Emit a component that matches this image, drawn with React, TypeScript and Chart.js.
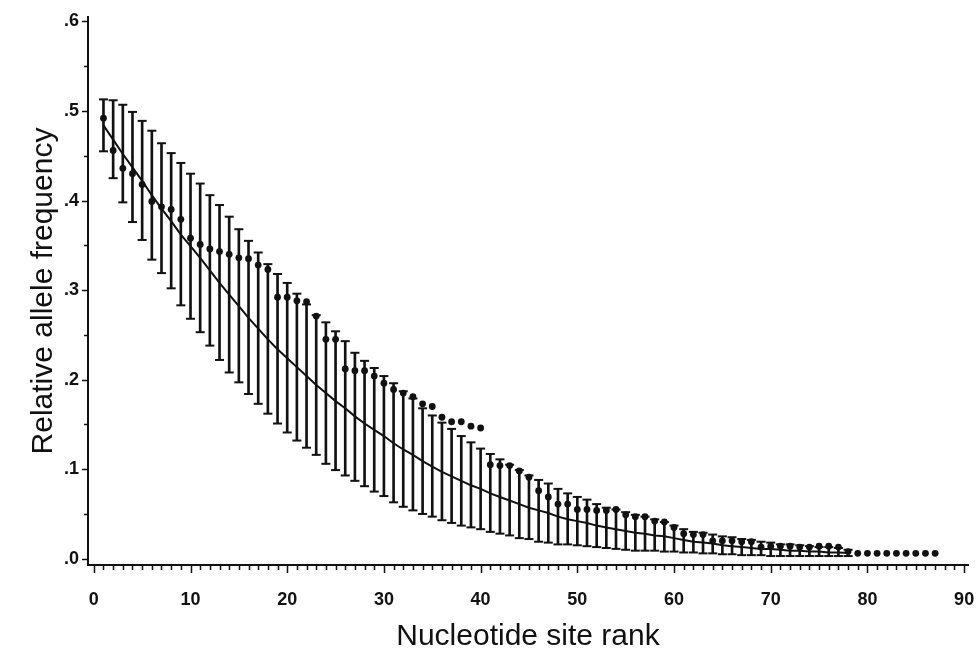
import React, { useEffect, useRef } from 'react';
import { Chart, registerables } from 'chart.js';

Chart.register(...registerables);

// Nucleotide site rank (categories)
const ranks = [
  1, 2, 3, 4, 5, 6, 7, 8, 9, 10, 11, 12, 13, 14, 15, 16, 17, 18, 19, 20,
  21, 22, 23, 24, 25, 26, 27, 28, 29, 30, 31, 32, 33, 34, 35, 36, 37, 38, 39, 40,
  41, 42, 43, 44, 45, 46, 47, 48, 49, 50, 51, 52, 53, 54, 55, 56, 57, 58, 59, 60,
  61, 62, 63, 64, 65, 66, 67, 68, 69, 70, 71, 72, 73, 74, 75, 76, 77, 78, 79, 80,
  81, 82, 83, 84, 85, 86, 87,
];

// Observed relative allele frequency (dots), ranks 1..87
const observed = [
  0.492, 0.456, 0.436, 0.430, 0.418, 0.399, 0.393, 0.390, 0.379, 0.358,
  0.351, 0.346, 0.343, 0.340, 0.336, 0.335, 0.328, 0.323, 0.292, 0.292,
  0.288, 0.287, 0.271, 0.245, 0.245, 0.212, 0.210, 0.210, 0.204, 0.196,
  0.189, 0.185, 0.181, 0.173, 0.170, 0.158, 0.153, 0.153, 0.148, 0.146,
  0.105, 0.104, 0.104, 0.098, 0.091, 0.076, 0.069, 0.061, 0.061, 0.055,
  0.055, 0.054, 0.054, 0.055, 0.049, 0.047, 0.047, 0.042, 0.041, 0.035,
  0.028, 0.027, 0.027, 0.020, 0.020, 0.020, 0.019, 0.019, 0.013, 0.014,
  0.014, 0.014, 0.013, 0.013, 0.014, 0.014, 0.013, 0.008, 0.006, 0.006,
  0.006, 0.006, 0.006, 0.006, 0.006, 0.006, 0.006,
];

// Expected frequency (curve), ranks 1..78
const expected = [
  0.484, 0.468, 0.452, 0.437, 0.422, 0.406, 0.391, 0.377, 0.362, 0.349,
  0.336, 0.322, 0.308, 0.295, 0.282, 0.269, 0.257, 0.245, 0.234, 0.224,
  0.214, 0.204, 0.194, 0.185, 0.176, 0.168, 0.159, 0.151, 0.144, 0.137,
  0.129, 0.122, 0.116, 0.109, 0.103, 0.097, 0.092, 0.087, 0.082, 0.078,
  0.073, 0.069, 0.065, 0.061, 0.057, 0.054, 0.051, 0.047, 0.044, 0.042,
  0.040, 0.037, 0.035, 0.033, 0.031, 0.029, 0.028, 0.026, 0.025, 0.023,
  0.021, 0.019, 0.018, 0.017, 0.015, 0.014, 0.013, 0.012, 0.011, 0.011,
  0.010, 0.009, 0.009, 0.008, 0.008, 0.007, 0.007, 0.0065,
];

// Upper end of error bars, ranks 1..78
const upper = [
  0.513, 0.512, 0.507, 0.499, 0.489, 0.478, 0.464, 0.453, 0.442, 0.430,
  0.419, 0.406, 0.395, 0.382, 0.368, 0.355, 0.342, 0.329, 0.318, 0.308,
  0.296, 0.284, 0.272, 0.264, 0.254, 0.243, 0.230, 0.221, 0.213, 0.204,
  0.196, 0.187, 0.179, 0.168, 0.160, 0.152, 0.145, 0.137, 0.130, 0.123,
  0.117, 0.111, 0.105, 0.099, 0.093, 0.088, 0.084, 0.078, 0.073, 0.069,
  0.066, 0.061, 0.057, 0.055, 0.052, 0.049, 0.047, 0.044, 0.041, 0.037,
  0.033, 0.030, 0.029, 0.027, 0.025, 0.024, 0.022, 0.021, 0.019, 0.018,
  0.016, 0.016, 0.015, 0.014, 0.013, 0.013, 0.012, 0.010,
];

// Lower end of error bars, ranks 1..78
const lower = [
  0.455, 0.425, 0.398, 0.376, 0.356, 0.334, 0.319, 0.302, 0.283, 0.268,
  0.253, 0.238, 0.222, 0.208, 0.197, 0.184, 0.173, 0.162, 0.151, 0.141,
  0.132, 0.124, 0.116, 0.106, 0.099, 0.093, 0.087, 0.081, 0.075, 0.070,
  0.063, 0.058, 0.054, 0.050, 0.047, 0.043, 0.040, 0.037, 0.035, 0.033,
  0.030, 0.028, 0.026, 0.023, 0.022, 0.019, 0.018, 0.016, 0.016, 0.015,
  0.014, 0.013, 0.012, 0.011, 0.010, 0.009, 0.009, 0.009, 0.008, 0.008,
  0.007, 0.007, 0.006, 0.006, 0.005, 0.005, 0.004, 0.004, 0.004, 0.003,
  0.003, 0.003, 0.003, 0.003, 0.003, 0.003, 0.003, 0.003,
];

const xTickValues = [0, 10, 20, 30, 40, 50, 60, 70, 80, 90];
const xTickLabels = ['0', '10', '20', '30', '40', '50', '60', '70', '80', '90'];
const yTickValues = [0, 0.1, 0.2, 0.3, 0.4, 0.5, 0.6];
const yTickLabels = ['.0', '.1', '.2', '.3', '.4', '.5', '.6'];
const xMinorStep = 1;
const yMinorStep = 0.05;

const INK = '#111111';
const FONT = "'Liberation Sans', Arial, Helvetica, sans-serif";

const tickPlugin = {
  id: 'axisTickMarks',
  afterDraw(chart: any) {
    const { ctx } = chart;
    const xs = chart.scales.x;
    const ys = chart.scales.y;
    ctx.save();
    ctx.strokeStyle = INK;
    ctx.lineWidth = 1.5;
    ctx.beginPath();
    const yMax = yTickValues[yTickValues.length - 1];
    const nY = Math.round(yMax / yMinorStep);
    for (let k = 0; k <= nY; k++) {
      const v = k * yMinorStep;
      const major = k % 2 === 0;
      const len = major ? 6 : 4;
      const py = Math.round(ys.getPixelForValue(v)) + 0.5;
      ctx.moveTo(ys.right - len, py);
      ctx.lineTo(ys.right, py);
    }
    const xMax = xTickValues[xTickValues.length - 1];
    const nX = Math.round(xMax / xMinorStep);
    for (let k = 0; k <= nX; k++) {
      const v = k * xMinorStep;
      const major = k % 10 === 0;
      const len = major ? 8 : 5;
      const px = Math.round(xs.getPixelForValue(v)) + 0.5;
      ctx.moveTo(px, xs.top);
      ctx.lineTo(px, xs.top + len);
    }
    ctx.stroke();
    ctx.restore();
  },
};

export default function App() {
  const ref = useRef<HTMLCanvasElement>(null);

  useEffect(() => {
    const barRanks = ranks.slice(0, upper.length);
    const chart = new Chart(ref.current as HTMLCanvasElement, {
      type: 'scatter',
      data: {
        datasets: [
          {
            type: 'scatter',
            label: 'Observed',
            data: ranks.map((r, i) => ({ x: r, y: observed[i] })),
            pointStyle: 'circle',
            pointRadius: 3.4,
            pointBackgroundColor: INK,
            pointBorderColor: INK,
            pointBorderWidth: 0,
            order: 0,
          } as any,
          {
            type: 'line',
            label: 'Expected',
            data: barRanks.map((r, i) => ({ x: r, y: expected[i] })),
            borderColor: INK,
            borderWidth: 2,
            pointRadius: 0,
            tension: 0,
            fill: false,
            order: 1,
          } as any,
          {
            type: 'scatter',
            label: 'Upper',
            data: barRanks.map((r, i) => ({ x: r, y: upper[i] })),
            pointStyle: 'line',
            pointRadius: 4.5,
            pointBorderColor: INK,
            pointBorderWidth: 2,
            order: 2,
          } as any,
          {
            type: 'scatter',
            label: 'Lower',
            data: barRanks.map((r, i) => ({ x: r, y: lower[i] })),
            pointStyle: 'line',
            pointRadius: 4.5,
            pointBorderColor: INK,
            pointBorderWidth: 2,
            order: 2,
          } as any,
          {
            type: 'bar',
            label: 'Range',
            data: barRanks.map((r, i) => ({ x: r, y: [lower[i], upper[i]] })),
            backgroundColor: INK,
            borderWidth: 0,
            barThickness: 2,
            grouped: false,
            order: 3,
          } as any,
        ],
      },
      options: {
        responsive: false,
        devicePixelRatio: 1,
        animation: false,
        events: [],
        layout: { padding: { left: 0, top: 17, right: 9, bottom: 0 } },
        plugins: {
          legend: { display: false },
          tooltip: { enabled: false },
        },
        scales: {
          x: {
            type: 'linear',
            min: -0.6,
            max: 90.4,
            offset: false,
            grid: { display: false, drawTicks: true, tickLength: 24, offset: false },
            border: { display: true, color: INK, width: 2 },
            afterBuildTicks: (s: any) => {
              s.ticks = xTickValues.map((v) => ({ value: v }));
            },
            afterFit: (s: any) => {
              s.height = 87;
            },
            ticks: {
              autoSkip: false,
              maxRotation: 0,
              padding: 0,
              color: INK,
              font: { family: FONT, size: 18, weight: 'bold' },
              callback: (_v: any, i: number) => xTickLabels[i],
            },
            title: {
              display: true,
              text: 'Nucleotide site rank',
              color: INK,
              font: { family: FONT, size: 30, weight: 'normal', lineHeight: 1 },
              padding: { top: 0, bottom: 0 },
            },
          },
          y: {
            type: 'linear',
            min: -0.007,
            max: 0.605,
            beginAtZero: false,
            grid: { display: false, drawTicks: true, tickLength: 9 },
            border: { display: true, color: INK, width: 2 },
            afterBuildTicks: (s: any) => {
              s.ticks = yTickValues.map((v) => ({ value: v }));
            },
            afterFit: (s: any) => {
              s.width = 88;
            },
            ticks: {
              autoSkip: false,
              padding: 0,
              color: INK,
              font: { family: FONT, size: 18, weight: 'bold' },
              callback: (_v: any, i: number) => yTickLabels[i],
            },
            title: {
              display: true,
              text: 'Relative allele frequency',
              color: INK,
              font: { family: FONT, size: 30, weight: 'normal', lineHeight: 1 },
              padding: { top: 29, bottom: 0 },
            },
          },
        },
      } as any,
      plugins: [tickPlugin],
    });
    return () => chart.destroy();
  }, []);

  return (
    <div
      style={{
        position: 'absolute',
        left: 0,
        top: 0,
        width: 977,
        height: 652,
        background: '#ffffff',
      }}
    >
      <canvas
        ref={ref}
        width={977}
        height={652}
        style={{ display: 'block', width: 977, height: 652 }}
      />
    </div>
  );
}
